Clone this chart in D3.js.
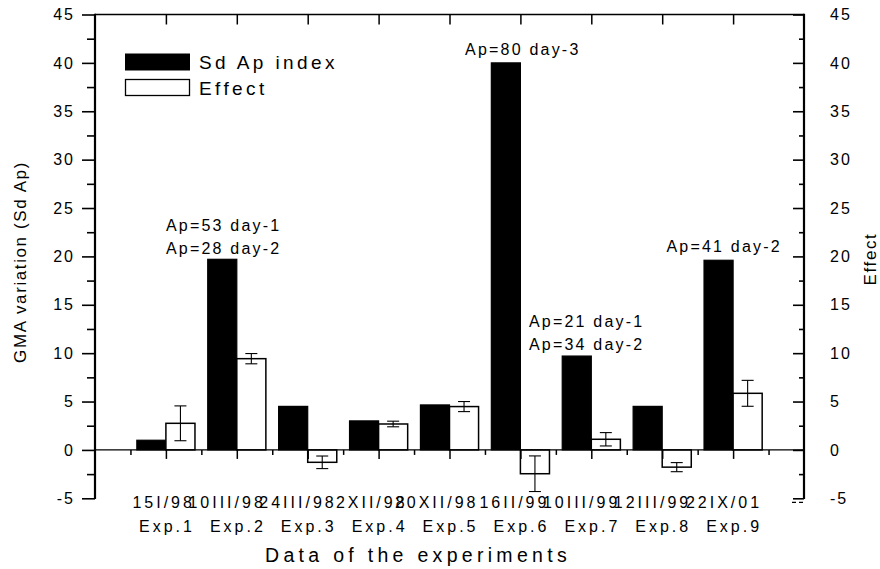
<!DOCTYPE html>
<html>
<head>
<meta charset="utf-8">
<script src="https://cdn.jsdelivr.net/npm/d3@7"></script>
<style>
  body { margin: 0; background: #fff; }
  svg { display: block; font-family: "Liberation Sans", Arial, sans-serif; }
</style>
</head>
<body>
<svg id="chart"></svg>
<script>
// experiment dates and names (two-line x labels)
const dates = ["15I/98", "10III/98", "24III/98", "2XII/98", "20XII/98", "16II/99", "10III/99", "12III/99", "22IX/01"];
const experiments = ["Exp.1", "Exp.2", "Exp.3", "Exp.4", "Exp.5", "Exp.6", "Exp.7", "Exp.8", "Exp.9"];

// series
const sdApIndex = [1.0, 19.7, 4.5, 3.0, 4.65, 40.0, 9.7, 4.5, 19.6];
const effect = [2.75, 9.43, -1.28, 2.68, 4.48, -2.46, 1.1, -1.78, 5.85];
const effectErr = [1.8, 0.53, 0.65, 0.29, 0.52, 1.84, 0.69, 0.47, 1.34];

const yTicks = [-5, 0, 5, 10, 15, 20, 25, 30, 35, 40, 45];

// annotation texts, placed by experiment
const notes = [
  { exp: 2, lines: ["Ap=53 day-1", "Ap=28 day-2"] },
  { exp: 6, lines: ["Ap=80 day-3"] },
  { exp: 7, lines: ["Ap=21 day-1", "Ap=34 day-2"] },
  { exp: 9, lines: ["Ap=41 day-2"] }
];

const w = 880, h = 569;
const padLeft = 95, padRight = 804, padTop = 14.5, padBottom = 498.3;
const barW = 0.41;
const fmt = d => String(d); // plain hyphen for negatives, like the original

const svg = d3.select("#chart").attr("width", w).attr("height", h);

const x = d3.scaleLinear().domain([0, 10]).range([padLeft, padRight]);
const y = d3.scaleLinear().domain([-5, 45]).range([padBottom, padTop]);

const idx = d3.range(dates.length);

// bars
svg.append("g").selectAll("rect")
  .data(idx).enter().append("rect")
  .attr("x", i => x(i + 1 - barW))
  .attr("y", i => y(Math.max(0, sdApIndex[i])))
  .attr("width", x(barW) - x(0))
  .attr("height", i => Math.abs(y(sdApIndex[i]) - y(0)))
  .attr("fill", "#000").attr("stroke", "#000").attr("stroke-width", 1.2);

svg.append("g").selectAll("rect")
  .data(idx).enter().append("rect")
  .attr("x", i => x(i + 1))
  .attr("y", i => y(Math.max(0, effect[i])))
  .attr("width", x(barW) - x(0))
  .attr("height", i => Math.abs(y(effect[i]) - y(0)))
  .attr("fill", "#fff").attr("stroke", "#000").attr("stroke-width", 1.5);

// error bars
const eb = svg.append("g").attr("stroke", "#000").attr("stroke-width", 1.1);
idx.forEach(i => {
  const cx = x(i + 1 + barW / 2);
  const y1 = y(effect[i] + effectErr[i]), y2 = y(effect[i] - effectErr[i]);
  eb.append("line").attr("x1", cx).attr("x2", cx).attr("y1", y1).attr("y2", y2);
  eb.append("line").attr("x1", cx - 6).attr("x2", cx + 6).attr("y1", y1).attr("y2", y1);
  eb.append("line").attr("x1", cx - 6).attr("x2", cx + 6).attr("y1", y2).attr("y2", y2);
});

// zero line with ticks
svg.append("g").attr("transform", `translate(0,${y(0)})`)
  .call(d3.axisBottom(x).tickValues(d3.range(1, 10)).tickSize(9).tickFormat(""))
  .call(g => g.select(".domain").remove())
  .selectAll(".tick line").attr("stroke-width", 1.5);
svg.append("g").attr("transform", `translate(0,${y(0)})`)
  .call(d3.axisBottom(x).tickValues(d3.range(0.5, 10, 1)).tickSize(5).tickFormat(""))
  .call(g => g.select(".domain").remove())
  .selectAll(".tick line").attr("stroke-width", 1.5);
svg.append("line").attr("x1", padLeft).attr("x2", padRight + 1)
  .attr("y1", y(0)).attr("y2", y(0)).attr("stroke", "#000").attr("stroke-width", 1.4);

// top frame with inward ticks
svg.append("g").attr("transform", `translate(0,${padTop})`)
  .call(d3.axisBottom(x).tickValues(d3.range(1, 10)).tickSize(10).tickFormat(""))
  .call(g => g.select(".domain").remove())
  .selectAll(".tick line").attr("stroke-width", 1.5);
svg.append("line").attr("x1", padLeft).attr("x2", padRight)
  .attr("y1", padTop).attr("y2", padTop).attr("stroke", "#000").attr("stroke-width", 1.4);

// left axis: outward ticks
const gl = svg.append("g").attr("transform", `translate(${padLeft},0)`)
  .call(d3.axisLeft(y).tickValues(yTicks).tickSize(13).tickPadding(9).tickFormat(fmt));
gl.select(".domain").remove();
gl.selectAll(".tick line").attr("stroke-width", 1.6);
gl.selectAll("text").attr("font-size", 16).attr("letter-spacing", 2).attr("dx", 2)
  .attr("fill", "#000").attr("font-family", "Liberation Sans, Arial, sans-serif");
svg.append("g").attr("transform", `translate(${padLeft},0)`)
  .call(d3.axisLeft(y).tickValues(d3.range(-2.5, 45, 5)).tickSize(8).tickFormat(""))
  .call(g => g.select(".domain").remove())
  .selectAll(".tick line").attr("stroke-width", 1.6);
svg.append("line").attr("x1", padLeft).attr("x2", padLeft)
  .attr("y1", padTop - 0.8).attr("y2", padBottom + 0.8).attr("stroke", "#000").attr("stroke-width", 2.2);

// right axis: inward ticks
const gr = svg.append("g").attr("transform", `translate(${padRight},0)`)
  .call(d3.axisRight(y).tickValues(yTicks).tickSize(-11).tickPadding(26).tickFormat(fmt));
gr.select(".domain").remove();
gr.selectAll(".tick line").attr("stroke-width", 1.6);
gr.selectAll("text").attr("font-size", 16).attr("letter-spacing", 2)
  .attr("fill", "#000").attr("font-family", "Liberation Sans, Arial, sans-serif");
svg.append("g").attr("transform", `translate(${padRight},0)`)
  .call(d3.axisRight(y).tickValues(d3.range(-2.5, 45, 5)).tickSize(-5).tickFormat(""))
  .call(g => g.select(".domain").remove())
  .selectAll(".tick line").attr("stroke-width", 1.6);
svg.append("line").attr("x1", padRight).attr("x2", padRight)
  .attr("y1", padTop - 0.8).attr("y2", padBottom + 0.8).attr("stroke", "#000").attr("stroke-width", 2.2);
svg.append("line").attr("x1", padRight - 12).attr("x2", padRight - 1)
  .attr("y1", padBottom + 4).attr("y2", padBottom + 4)
  .attr("stroke", "#000").attr("stroke-width", 1.2).attr("stroke-dasharray", "4,3");

// x category labels (two lines, right aligned to the tick)
const xl = svg.append("g").attr("font-size", 16).attr("letter-spacing", 3).attr("text-anchor", "end");
idx.forEach(i => {
  xl.append("text").attr("x", x(i + 1) + 29).attr("y", 508).text(dates[i]);
  xl.append("text").attr("x", x(i + 1) + 29).attr("y", 531.5).text(experiments[i]);
});

// axis titles
svg.append("text").attr("x", 418).attr("y", 561.5).attr("text-anchor", "middle")
  .attr("font-size", 19.5).attr("letter-spacing", 4.3).text("Data of the experiments");
svg.append("text").attr("transform", "translate(26,262) rotate(-90)").attr("text-anchor", "middle")
  .attr("font-size", 17).attr("letter-spacing", 1.6).text("GMA variation (Sd Ap)");
svg.append("text").attr("transform", "translate(876,259) rotate(-90)").attr("text-anchor", "middle")
  .attr("font-size", 17).attr("letter-spacing", 1.6).text("Effect");

// legend
const lg = svg.append("g");
lg.append("rect").attr("x", 125).attr("y", 53.5).attr("width", 65).attr("height", 17).attr("fill", "#000");
lg.append("rect").attr("x", 125.5).attr("y", 79.5).attr("width", 64).attr("height", 16)
  .attr("fill", "#fff").attr("stroke", "#000").attr("stroke-width", 1.3);
lg.append("text").attr("x", 199).attr("y", 69).attr("font-size", 19).attr("letter-spacing", 3.4).text("Sd Ap index");
lg.append("text").attr("x", 199).attr("y", 94.5).attr("font-size", 19).attr("letter-spacing", 3.4).text("Effect");

// annotations
const notePos = { 2: [1.8, 22.65], 6: [6.02, 40.8], 7: [6.92, 12.74], 9: [8.86, 20.5] };
const ng = svg.append("g").attr("font-size", 16).attr("letter-spacing", 2.2).attr("text-anchor", "middle");
notes.forEach(n => {
  const [px, py] = notePos[n.exp];
  n.lines.forEach((t, k) => {
    ng.append("text").attr("x", x(px) + 1).attr("y", y(py) + k * 23).text(t);
  });
});
</script>
</body>
</html>
